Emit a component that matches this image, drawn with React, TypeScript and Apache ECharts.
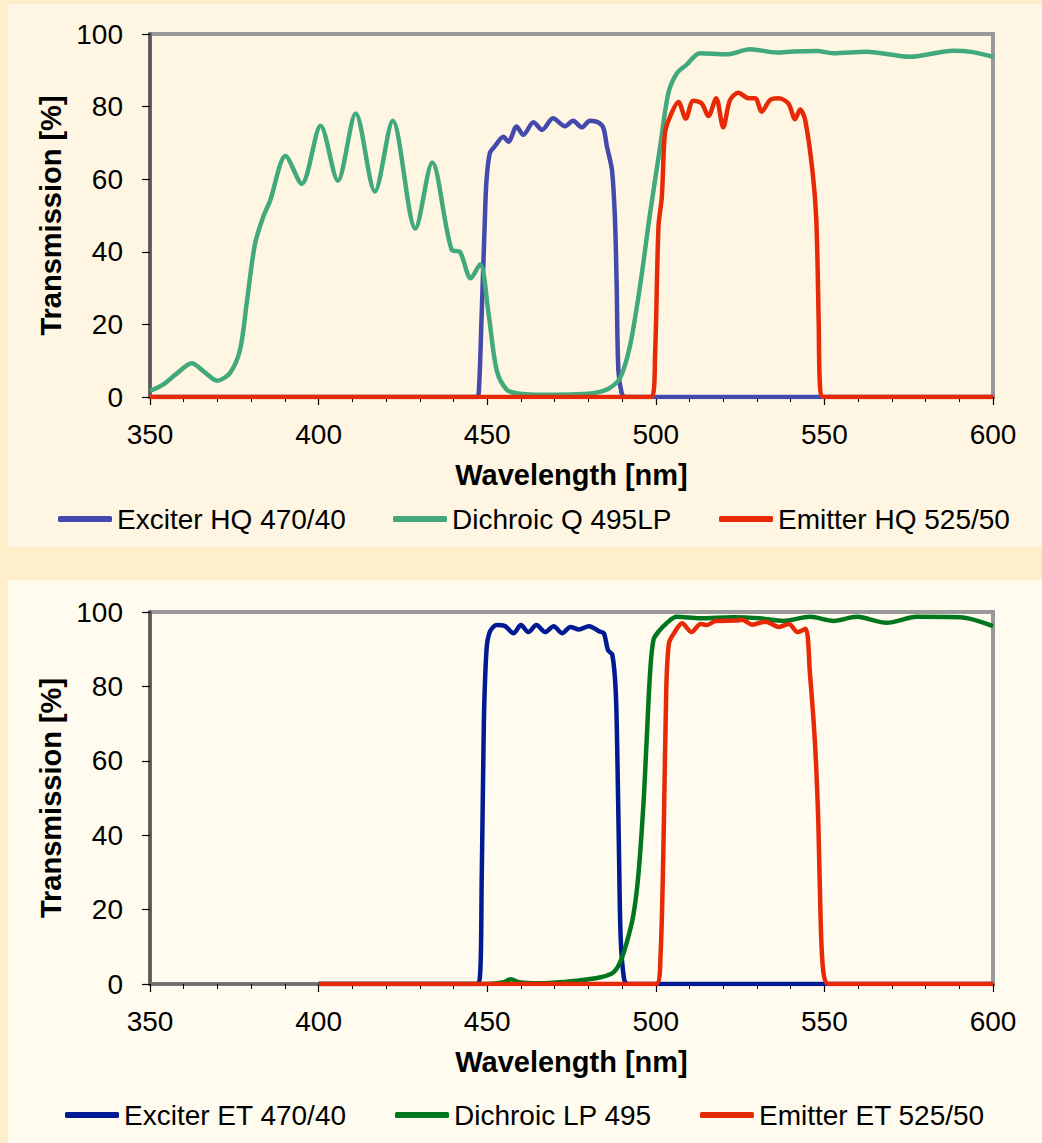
import React, { useEffect, useRef } from "react";
import * as echarts from "echarts";

const FONT = '"Liberation Sans", Arial, Helvetica, sans-serif';

// ---------- Top chart (HQ set) ----------
const hqExciterNm = [350, 447, 447.6, 448.3, 449.3, 449.8, 450.8, 452.3, 454.8, 456.3, 458.7, 460.7, 463.7, 466.3, 469.5, 473.1, 475.5, 478, 480.5, 483, 484.5, 485.5, 487, 487.9, 488.4, 488.9, 489.9, 491, 600];
const hqExciterT = [0, 0, 3, 21, 48.8, 59.8, 67.2, 69.1, 71.7, 70.3, 74.5, 72.2, 75.7, 73.6, 76.8, 74.6, 76.1, 74.3, 76.1, 75.6, 74, 69, 62.5, 48.8, 30.4, 7.4, 1, 0, 0];

const hqDichroicNm = [350, 354, 358, 362.4, 366, 369.9, 373.7, 376.7, 378.7, 381.1, 383.6, 385.6, 390.2, 395, 400.6, 405.7, 411, 416.7, 422, 428.7, 433.7, 439.5, 441.9, 445.1, 447.9, 450.4, 452.8, 455.8, 459, 462.7, 470, 480, 483.4, 486.4, 489.4, 492.3, 495.3, 498.3, 501.3, 503.7, 506.2, 509.1, 513.1, 521, 528, 535.9, 540.8, 547.8, 552.6, 562.6, 575.4, 588.2, 594.1, 600];
const hqDichroicT = [1.7, 3.5, 6.5, 9.3, 7, 4.5, 6.6, 13, 26, 42, 49.7, 54, 66.4, 58.7, 74.7, 59.6, 78.1, 56.6, 76.1, 46.4, 64.6, 40.5, 40, 32.7, 36.6, 23, 7.4, 2, 1, 0.7, 0.6, 0.9, 1.4, 2.5, 5.2, 13.9, 30.4, 50.6, 69, 83.6, 89.1, 91.5, 94.7, 94.4, 95.8, 94.9, 95.2, 95.3, 94.7, 95.1, 93.7, 95.4, 95, 93.7];

const hqEmitterNm = [350, 498.8, 499.8, 500.8, 501.8, 502.7, 504.2, 506.7, 508.9, 511.1, 513.6, 515.6, 517.9, 520, 522, 524.5, 527.5, 529.5, 531.4, 533.9, 536.4, 539.3, 541.3, 542.8, 544.3, 546.5, 547.6, 548.3, 548.7, 549.7, 600];
const hqEmitterT = [0, 0, 12, 47, 55.2, 72.6, 77.2, 81.3, 76.7, 81.6, 80.9, 77.4, 82.3, 74.3, 81.8, 83.8, 82.3, 82.3, 78.6, 81.8, 82.3, 80.9, 76.5, 79.2, 76.3, 62, 48.8, 21, 2.8, 0, 0];

// ---------- Bottom chart (ET set) ----------
const etExciterNm = [400, 447.4, 448.4, 449, 449.8, 450.8, 452.8, 455.3, 457.8, 460, 462.2, 464.6, 467.2, 469.7, 472.2, 474.7, 477.2, 480.2, 483.2, 484.6, 485.8, 487.1, 488.1, 488.6, 489.1, 489.6, 490.6, 491.6, 600];
const etExciterT = [0, 0, 30, 70, 89.8, 94.7, 96.5, 96.2, 94.3, 96.5, 94.6, 96.5, 94.6, 96.2, 94.3, 96, 95.3, 96.2, 94.8, 94.3, 89.8, 88.5, 79, 61.2, 34.4, 12, 1.3, 0, 0];

const etDichroicNm = [400, 450, 455, 457, 459.5, 465, 476.7, 483.6, 487.4, 489.4, 491.4, 493.3, 494.8, 496.3, 497.3, 498.3, 499.3, 500.8, 503.2, 506.2, 513.1, 523, 530.9, 537.8, 545.8, 552.7, 559.6, 568.5, 577.4, 590.2, 600];
const etDichroicT = [0, 0, 0.5, 1.3, 0.5, 0.2, 0.9, 1.8, 3.1, 5.8, 11.2, 18.3, 29, 47.8, 65.7, 83.6, 92.5, 94.7, 97, 98.7, 98.3, 98.6, 98.3, 97.6, 98.7, 97.6, 98.7, 97.1, 98.7, 98.6, 96.2];

const etEmitterNm = [400, 500.1, 501.4, 502.4, 503.1, 503.9, 505.4, 507.8, 510.6, 513.3, 515.2, 517.7, 523.7, 525.6, 528.6, 532.5, 536.5, 539.5, 542, 544.4, 545.7, 547.2, 548.2, 548.9, 549.7, 551.2, 600];
const etEmitterT = [0, 0, 7.6, 43.3, 79, 91.6, 94.3, 97, 94.6, 96.8, 96.5, 97.6, 97.7, 97.9, 96.6, 97.4, 96, 96.8, 94.6, 95.5, 83.6, 64.8, 43.4, 16.6, 3.2, 0, 0];

const xTicks = { min: 350, max: 600, interval: 50 };
const yTicks = { min: 0, max: 100, interval: 20 };

const seriesDefs = [
  { name: "Exciter HQ 470/40", nm: hqExciterNm, t: hqExciterT, color: "#4349AD", grid: 0 },
  { name: "Dichroic Q 495LP", nm: hqDichroicNm, t: hqDichroicT, color: "#41A97B", grid: 0 },
  { name: "Emitter HQ 525/50", nm: hqEmitterNm, t: hqEmitterT, color: "#E62A08", grid: 0 },
  { name: "Exciter ET 470/40", nm: etExciterNm, t: etExciterT, color: "#001A94", grid: 1 },
  { name: "Dichroic LP 495", nm: etDichroicNm, t: etDichroicT, color: "#00761E", grid: 1 },
  { name: "Emitter ET 525/50", nm: etEmitterNm, t: etEmitterT, color: "#E62A08", grid: 1 },
];

const legendPos = [
  { left: 58, top: 505 },
  { left: 393, top: 505 },
  { left: 719, top: 505 },
  { left: 65, top: 1101 },
  { left: 395, top: 1101 },
  { left: 700, top: 1101 },
];

function makeX(gridIndex: number) {
  return {
    type: "value",
    gridIndex,
    ...xTicks,
    name: "Wavelength [nm]",
    nameLocation: "middle",
    nameGap: 63,
    nameTextStyle: { fontFamily: FONT, fontSize: 29, fontWeight: "bold", color: "#000" },
    axisLine: { show: true, onZero: false, lineStyle: { color: "#707070", width: 3.5 } },
    axisTick: { show: true, length: 8, lineStyle: { color: "#000", width: 1.2 } },
    minorTick: { show: true, splitNumber: 5, length: 5, lineStyle: { color: "#000", width: 1 } },
    splitLine: { show: false },
    axisLabel: { fontFamily: FONT, fontSize: 28, color: "#000", margin: 23 },
  };
}

function makeY(gridIndex: number) {
  return {
    type: "value",
    gridIndex,
    ...yTicks,
    name: "Transmission [%]",
    nameLocation: "middle",
    nameRotate: 90,
    nameGap: 75,
    nameTextStyle: { fontFamily: FONT, fontSize: 29, fontWeight: "bold", color: "#000" },
    axisLine: { show: true, lineStyle: { color: "#5a5a5a", width: 3.5 } },
    axisTick: { show: true, length: 8, lineStyle: { color: "#000", width: 1.2 } },
    splitLine: { show: false },
    axisLabel: { fontFamily: FONT, fontSize: 28, color: "#000", margin: 27 },
  };
}

export default function App() {
  const ref = useRef<HTMLDivElement>(null);

  useEffect(() => {
    if (!ref.current) return;
    const chart = echarts.init(ref.current, null, { renderer: "svg" });
    chart.setOption({
      animation: false,
      textStyle: { fontFamily: FONT },
      grid: [
        { left: 150, top: 34, width: 843, height: 363, show: true, borderColor: "#999", borderWidth: 4, backgroundColor: "transparent" },
        { left: 150, top: 612, width: 843, height: 372, show: true, borderColor: "#999", borderWidth: 4, backgroundColor: "transparent" },
      ],
      xAxis: [makeX(0), makeX(1)],
      yAxis: [makeY(0), makeY(1)],
      legend: seriesDefs.map((s, i) => ({
        data: [s.name],
        left: legendPos[i].left,
        top: legendPos[i].top,
        padding: 0,
        icon: "roundRect",
        itemWidth: 54,
        itemHeight: 6,
        selectedMode: false,
        textStyle: { fontFamily: FONT, fontSize: 28, color: "#000" },
      })),
      series: seriesDefs.map((s) => ({
        type: "line",
        name: s.name,
        xAxisIndex: s.grid,
        yAxisIndex: s.grid,
        data: s.nm.map((x, k) => [x, s.t[k]]),
        showSymbol: false,
        symbol: "none",
        smooth: 0.3,
        color: s.color,
        itemStyle: { color: s.color },
        lineStyle: { color: s.color, width: 4.5 },
      })),
    });
    return () => chart.dispose();
  }, []);

  return (
    <div style={{ position: "absolute", left: 0, top: 0, width: 1042, height: 1143, background: "#FEEFCA", overflow: "hidden" }}>
      <div style={{ position: "absolute", left: 8, top: 4, width: 1034, height: 543, background: "#FEF6E2" }} />
      <div style={{ position: "absolute", left: 8, top: 580, width: 1034, height: 563, background: "#FFFBEE" }} />
      <div ref={ref} style={{ position: "absolute", left: 0, top: 0, width: 1042, height: 1143 }} />
    </div>
  );
}
